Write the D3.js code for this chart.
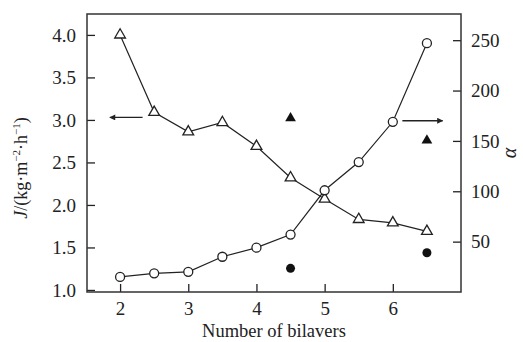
<html>
<head>
<meta charset="utf-8">
<script src="https://d3js.org/d3.v7.min.js"></script>
<style>
  body { margin: 0; background: #fff; }
  text { font-family: "Liberation Serif", "Times New Roman", serif; fill: #222; }
</style>
</head>
<body>
<svg id="chart"></svg>
<script>
    // data
    const bilayers = [2, 2.5, 3, 3.5, 4, 4.5, 5, 5.5, 6, 6.5];
    const fluxJ = [4.0, 3.09, 2.86, 2.97, 2.69, 2.32, 2.07, 1.83, 1.79, 1.69];
    const alpha = [15, 18.5, 20, 35, 44, 57, 101, 129, 169, 247];
    const extraX = [4.5, 6.5];
    const extraJ = [3.02, 2.76];
    const extraAlpha = [23.5, 39];
    const xTicks = [2, 3, 4, 5, 6];
    const jTicks = [1.0, 1.5, 2.0, 2.5, 3.0, 3.5, 4.0];
    const aTicks = [50, 100, 150, 200, 250];

    const width = 523, height = 342;
    const plotL = 87, plotR = 461, plotT = 14, plotB = 292;
    const ink = "#222";

    const svg = d3.select("#chart").attr("width", width).attr("height", height);

    const x = d3.scaleLinear().domain([1.5, 7]).range([86, 461]);
    const yJ = d3.scaleLinear().domain([0.976, 4.246]).range([plotB, plotT]);
    const yA = d3.scaleLinear().domain([0, 276]).range([plotB, plotT]);

    // ticks drawn inward
    const gx = svg.append("g").attr("transform", `translate(0,${plotB})`)
        .call(d3.axisBottom(x).tickValues(xTicks).tickSizeInner(-8).tickSizeOuter(0).tickPadding(10).tickFormat(d3.format("d")));
    const gl = svg.append("g").attr("transform", `translate(${plotL},0)`)
        .call(d3.axisLeft(yJ).tickValues(jTicks).tickSizeInner(-8).tickSizeOuter(0).tickPadding(11).tickFormat(d3.format(".1f")));
    const gr = svg.append("g").attr("transform", `translate(${plotR},0)`)
        .call(d3.axisRight(yA).tickValues(aTicks).tickSizeInner(-8).tickSizeOuter(0).tickPadding(10));
    [gx, gl, gr].forEach(g => {
        g.select(".domain").remove();
        g.selectAll("line").attr("stroke", ink).attr("stroke-width", 1.3);
        g.selectAll("text").attr("font-size", 19).attr("fill", ink)
            .style("font-family", "'Liberation Serif', serif");
    });

    svg.append("rect")
        .attr("x", plotL).attr("y", plotT)
        .attr("width", plotR - plotL).attr("height", plotB - plotT)
        .attr("fill", "none").attr("stroke", "#333").attr("stroke-width", 1.5);

    // lines
    const lineJ = d3.line().x((d, i) => x(bilayers[i])).y(d => yJ(d));
    const lineA = d3.line().x((d, i) => x(bilayers[i])).y(d => yA(d));
    svg.append("path").attr("d", lineJ(fluxJ)).attr("fill", "none").attr("stroke", ink).attr("stroke-width", 1.2);
    svg.append("path").attr("d", lineA(alpha)).attr("fill", "none").attr("stroke", ink).attr("stroke-width", 1.2);

    const tri = d3.symbol().type(d3.symbolTriangle).size(50);

    svg.selectAll(".tri").data(fluxJ).join("path")
        .attr("transform", (d, i) => `translate(${x(bilayers[i])},${yJ(d)})`)
        .attr("d", tri).attr("fill", "#fff").attr("stroke", ink).attr("stroke-width", 1.3);

    svg.selectAll(".circ").data(alpha).join("circle")
        .attr("cx", (d, i) => x(bilayers[i])).attr("cy", d => yA(d)).attr("r", 4.5)
        .attr("fill", "#fff").attr("stroke", ink).attr("stroke-width", 1.3);

    svg.selectAll(".ftri").data(extraJ).join("path")
        .attr("transform", (d, i) => `translate(${x(extraX[i])},${yJ(d)})`)
        .attr("d", tri).attr("fill", "#111");

    svg.selectAll(".fcirc").data(extraAlpha).join("circle")
        .attr("cx", (d, i) => x(extraX[i])).attr("cy", d => yA(d)).attr("r", 4.5)
        .attr("fill", "#111");

    // arrows
    const defs = svg.append("defs");
    defs.append("marker").attr("id", "head").attr("viewBox", "0 0 10 10")
        .attr("refX", 9).attr("refY", 5).attr("markerWidth", 9).attr("markerHeight", 6)
        .attr("markerUnits", "userSpaceOnUse").attr("orient", "auto")
        .append("path").attr("d", "M0,0L10,5L0,10Z").attr("fill", ink);

    svg.append("line")
        .attr("x1", x(2.33)).attr("y1", yJ(3.03)).attr("x2", x(1.85)).attr("y2", yJ(3.03))
        .attr("stroke", ink).attr("stroke-width", 1.3).attr("marker-end", "url(#head)");
    svg.append("line")
        .attr("x1", x(6.14)).attr("y1", yA(170)).attr("x2", x(6.73)).attr("y2", yA(170))
        .attr("stroke", ink).attr("stroke-width", 1.3).attr("marker-end", "url(#head)");

    // axis titles
    svg.append("text").attr("x", 274).attr("y", 337)
        .attr("text-anchor", "middle").attr("font-size", 18.5).text("Number of bilavers");

    const yl = svg.append("text")
        .attr("transform", "translate(27,168) rotate(-90)")
        .attr("text-anchor", "middle").attr("font-size", 18);
    yl.append("tspan").attr("font-style", "italic").text("J");
    yl.append("tspan").text("/(kg·m");
    yl.append("tspan").attr("font-size", 11).attr("dy", -7).text("−2");
    yl.append("tspan").attr("dy", 7).text("·h");
    yl.append("tspan").attr("font-size", 11).attr("dy", -7).text("−1");
    yl.append("tspan").attr("dy", 7).text(")");

    svg.append("text").attr("transform", "translate(516,153) rotate(-90)")
        .attr("text-anchor", "middle").attr("font-size", 20).attr("font-style", "italic").text("α");
</script>
</body>
</html>
